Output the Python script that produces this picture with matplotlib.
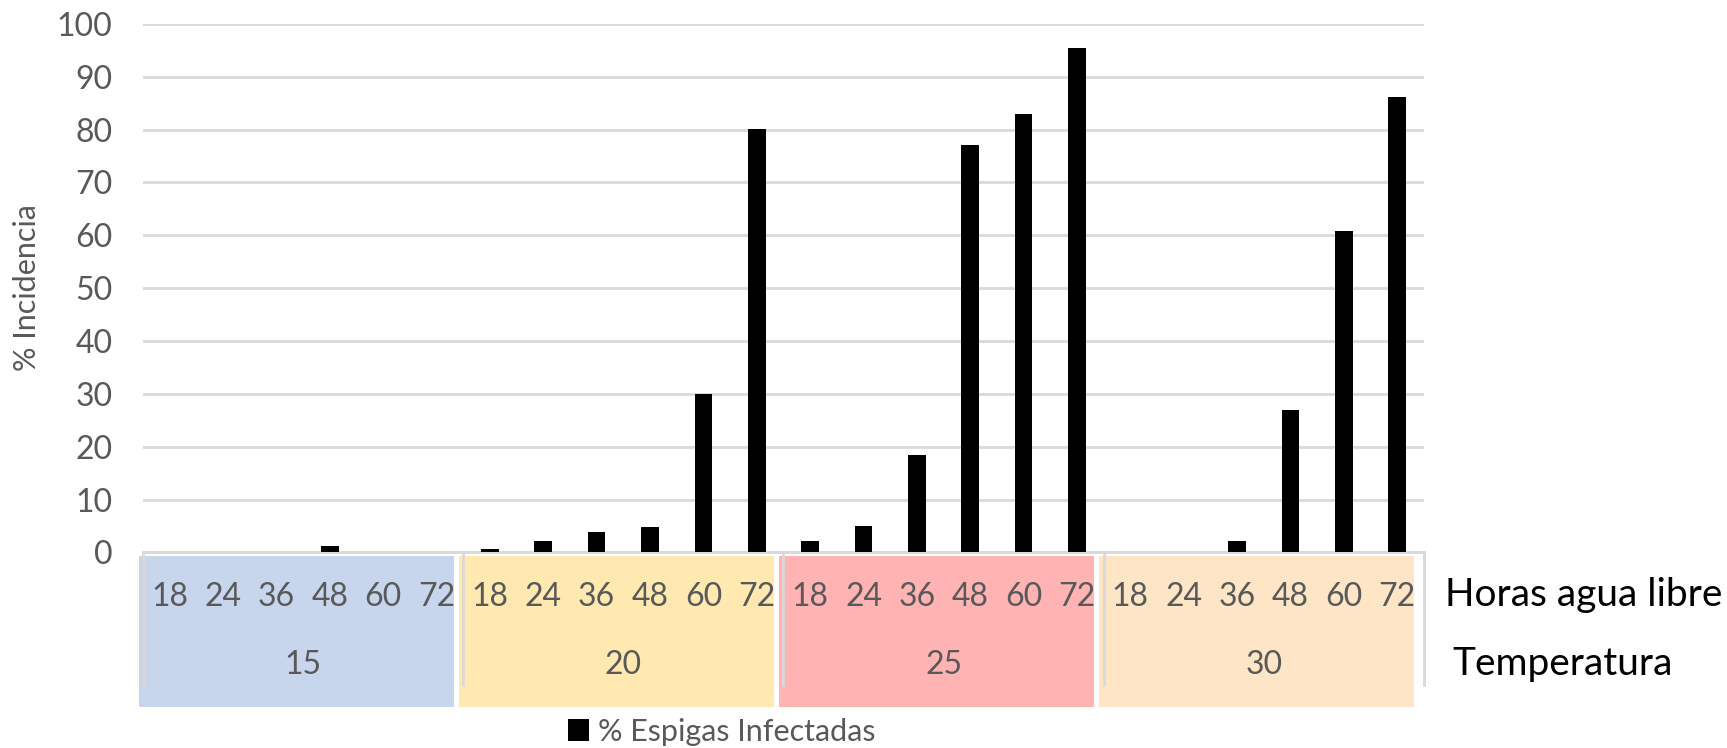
import matplotlib.pyplot as plt
from matplotlib.patches import Rectangle
import numpy as np

plt.rcParams['font.family'] = ['Lato', 'DejaVu Sans']

# hours of free water for each temperature block
horas = ['18', '24', '36', '48', '60', '72']
temperaturas = ['15', '20', '25', '30']

# % of infected spikes, one list per temperature
inc_15 = [0, 0, 0, 1.3, 0, 0]
inc_20 = [0.6, 2.2, 3.9, 4.9, 30.0, 80.2]
inc_25 = [2.2, 5.1, 18.4, 77.0, 83.0, 95.4]
inc_30 = [0, 0, 2.2, 27.0, 60.9, 86.1]

colores_temp = ['#c7d5ed', '#ffe9b1', '#ffb3b3', '#fee5c5']

valores = inc_15 + inc_20 + inc_25 + inc_30
x = np.arange(len(valores))

fig = plt.figure(figsize=(17.27, 7.48), dpi=100)
ax = fig.add_axes([0.0828, 0.2614, 0.7417, 0.7066])

barras = ax.bar(x, valores, width=0.33, color='black', zorder=3,
                label='% Espigas Infectadas')

ax.set_xlim(-0.5, len(valores) - 0.5)
ax.set_ylim(0, 100)
ax.set_yticks(np.arange(0, 101, 10))
ax.yaxis.grid(True, color='#d9d9d9', linewidth=2)
ax.set_axisbelow(True)
ax.tick_params(axis='y', length=0, pad=22, labelsize=23, labelcolor='#595959')
ax.set_xticks([])
for s in ['top', 'right', 'left']:
    ax.spines[s].set_visible(False)
ax.spines['bottom'].set_color('#d9d9d9')
ax.spines['bottom'].set_linewidth(2)

fig.text(0.0156, 0.615, '% Incidencia', rotation=90, fontsize=22,
         color='#595959', ha='center', va='center')

trans = ax.get_xaxis_transform()
for g, temp in enumerate(temperaturas):
    # coloured block behind each temperature group
    ax.add_patch(Rectangle((6 * g - 0.58, -0.292), 5.9, 0.285, transform=trans,
                           facecolor=colores_temp[g], edgecolor='none',
                           clip_on=False, zorder=1))
    for i, h in enumerate(horas):
        ax.text(6 * g + i, -0.084, h, transform=trans, ha='center', va='center',
                fontsize=23, color='#595959', zorder=4)
    ax.text(6 * g + 2.5, -0.212, temp, transform=trans, ha='center', va='center',
            fontsize=23, color='#595959', zorder=4)

for g in range(len(temperaturas) + 1):
    ax.plot([6 * g - 0.5, 6 * g - 0.5], [0, -0.25], transform=trans,
            color='#d9d9d9', linewidth=2, clip_on=False, zorder=2)

fig.text(0.8367, 0.2045, 'Horas agua libre', fontsize=28, va='center', ha='left')
fig.text(0.8408, 0.1123, 'Temperatura', fontsize=28, va='center', ha='left')

leg = fig.legend(handles=[barras], loc='center', bbox_to_anchor=(0.418, 0.022),
                 frameon=False, fontsize=22, handlelength=0.7, handleheight=0.7,
                 handletextpad=0.3)
for t in leg.get_texts():
    t.set_color('#595959')

fig.savefig('out.png', dpi=100)
